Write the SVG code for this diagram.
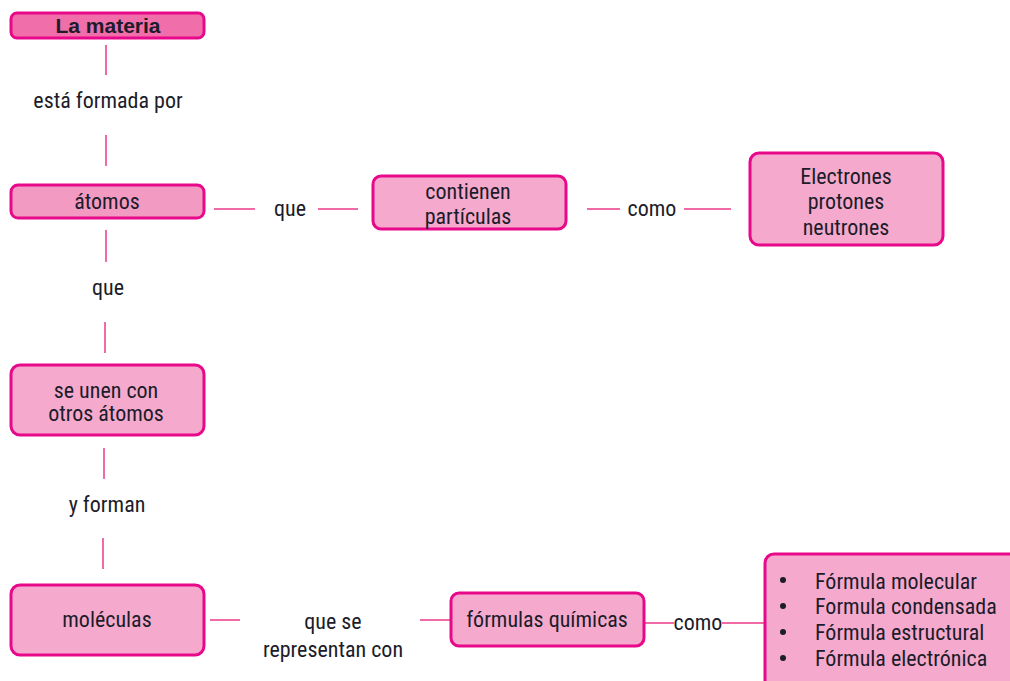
<svg xmlns="http://www.w3.org/2000/svg" width="1010" height="681" viewBox="0 0 1010 681">
<style>
.box{fill:#f5aacd;stroke:#e8088a;stroke-width:3}
.t{font-family:"Roboto Condensed","Liberation Sans Narrow",Roboto,sans-serif;font-size:22px;fill:#1c1c2a;text-anchor:middle}
.l{font-family:"Roboto Condensed","Liberation Sans Narrow",Roboto,sans-serif;font-size:22px;fill:#1c1c2a}
.c{stroke:#f06aa8;stroke-width:2;fill:none}
</style>
<rect width="1010" height="681" fill="#fff"/>
<g id="connectors">
<line class="c" x1="106" y1="45" x2="106" y2="75"/>
<line class="c" x1="106" y1="135" x2="106" y2="166"/>
<line class="c" x1="106" y1="230" x2="106" y2="262"/>
<line class="c" x1="105" y1="322" x2="105" y2="353"/>
<line class="c" x1="104" y1="448" x2="104" y2="479"/>
<line class="c" x1="103" y1="538" x2="103" y2="569"/>
<line class="c" x1="214" y1="209" x2="255" y2="209"/>
<line class="c" x1="318" y1="209" x2="358" y2="209"/>
<line class="c" x1="587" y1="209" x2="620" y2="209"/>
<line class="c" x1="684" y1="209" x2="731" y2="209"/>
<line class="c" x1="210" y1="620" x2="240" y2="620"/>
<line class="c" x1="420" y1="620" x2="451" y2="620"/>
<line class="c" x1="645" y1="623" x2="674" y2="623"/>
<line class="c" x1="722" y1="623" x2="765" y2="623"/>
<text class="t" x="108" y="108">está formada por</text>
<text class="t" x="108" y="295">que</text>
<text class="t" x="107" y="512">y forman</text>
<text class="t" x="290" y="216">que</text>
<text class="t" x="652" y="216">como</text>
<text class="t" x="333" y="629">que se</text>
<text class="t" x="333" y="657">representan con</text>
<text class="t" x="698" y="630">como</text>
</g>
<g id="n-materia">
<rect x="11" y="13" width="193" height="25" rx="6" fill="#f06ea9" stroke="#e8088a" stroke-width="3"/>
<text class="t" x="108" y="33" style="font-weight:bold;font-family:'Liberation Sans',Arial,sans-serif;font-size:21px">La materia</text>
</g>
<g id="n-atomos">
<rect x="11" y="185" width="193" height="33" rx="7" fill="#f39ac3" stroke="#e8088a" stroke-width="3"/>
<text class="t" x="107" y="209">átomos</text>
</g>
<g id="n-contienen">
<rect class="box" x="373" y="176" width="193" height="53" rx="8"/>
<text class="t" x="468" y="199">contienen</text>
<text class="t" x="468" y="224">partículas</text>
</g>
<g id="n-particulas">
<rect class="box" x="750" y="153" width="193" height="92" rx="9"/>
<text class="t" x="846" y="184">Electrones</text>
<text class="t" x="846" y="209">protones</text>
<text class="t" x="846" y="235">neutrones</text>
</g>
<g id="n-unen">
<rect class="box" x="11" y="365" width="193" height="70" rx="9"/>
<text class="t" x="106" y="398">se unen con</text>
<text class="t" x="106" y="421">otros átomos</text>
</g>
<g id="n-moleculas">
<rect class="box" x="11" y="585" width="193" height="70" rx="9"/>
<text class="t" x="107" y="627">moléculas</text>
</g>
<g id="n-formulas">
<rect class="box" x="451" y="593" width="193" height="53" rx="8"/>
<text class="t" x="547" y="627">fórmulas químicas</text>
</g>
<g id="n-tipos">
<rect class="box" x="765" y="554" width="260" height="140" rx="9"/>
<g fill="#1c1c2a">
<circle cx="783" cy="580" r="3"/><circle cx="783" cy="606" r="3"/><circle cx="783" cy="632" r="3"/><circle cx="783" cy="658" r="3"/>
</g>
<text class="l" x="815" y="589">Fórmula molecular</text>
<text class="l" x="815" y="614">Formula condensada</text>
<text class="l" x="815" y="640">Fórmula estructural</text>
<text class="l" x="815" y="666">Fórmula electrónica</text>
</g>
</svg>
